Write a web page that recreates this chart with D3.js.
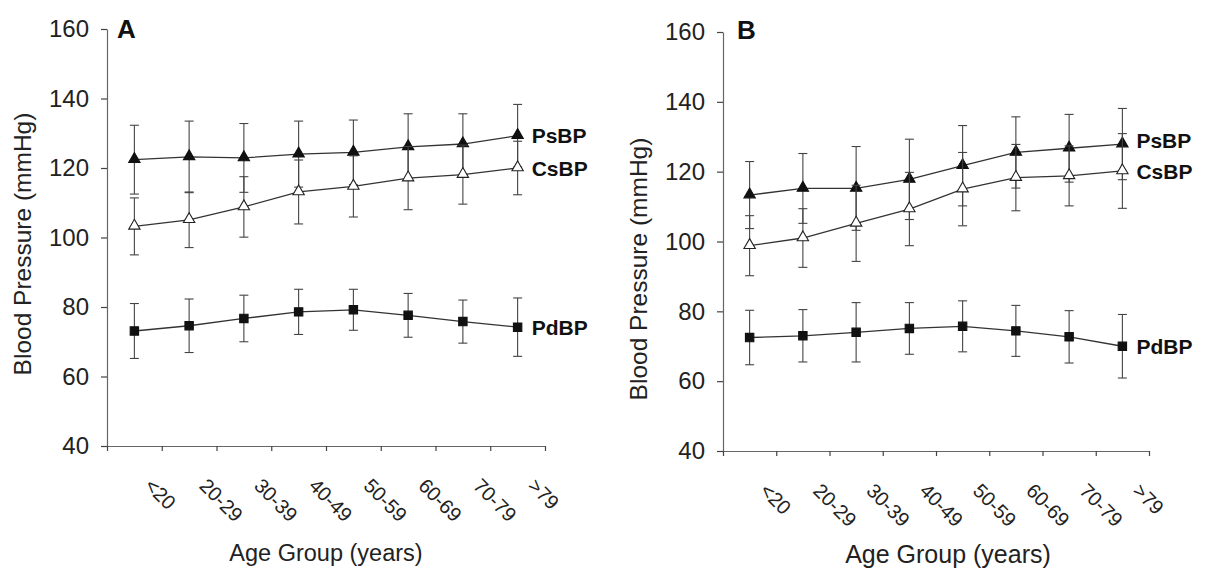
<!DOCTYPE html>
<html>
<head>
<meta charset="utf-8">
<script src="https://cdn.jsdelivr.net/npm/d3@7/dist/d3.min.js"></script>
<style>
  html, body { margin: 0; padding: 0; background: #fff; }
  svg { display: block; font-family: "Liberation Sans", Arial, Helvetica, sans-serif; }
</style>
</head>
<body>
<svg id="chart" width="1209" height="569"></svg>
<script>
// ---- data ----
const ageGroups = ["<20", "20-29", "30-39", "40-49", "50-59", "60-69", "70-79", ">79"];
const yTicks = [40, 60, 80, 100, 120, 140, 160];
const seriesNames = ["PsBP", "CsBP", "PdBP"];
const panelNames = ["A", "B"];
const xTitle = "Age Group (years)";
const yTitle = "Blood Pressure (mmHg)";

// Panel A
const aPsBP   = [122.4, 123.2, 122.9, 124.0, 124.5, 126.1, 126.9, 129.3];
const aPsBPsd = [9.9, 10.3, 9.9, 9.5, 9.3, 9.5, 8.7, 9.0];
const aCsBP   = [103.2, 105.1, 108.8, 113.1, 114.7, 117.1, 118.1, 120.0];
const aCsBPsd = [8.2, 8.0, 8.7, 9.2, 8.8, 9.1, 8.5, 7.7];
const aPdBP   = [73.1, 74.6, 76.7, 78.6, 79.2, 77.6, 75.8, 74.2];
const aPdBPsd = [7.9, 7.7, 6.7, 6.5, 5.9, 6.3, 6.2, 8.4];

// Panel B
const bPsBP   = [113.3, 115.2, 115.2, 117.8, 121.7, 125.5, 126.7, 127.9];
const bPsBPsd = [9.6, 10.0, 12.0, 11.5, 11.5, 10.2, 9.7, 10.2];
const bCsBP   = [98.8, 101.0, 105.2, 109.3, 115.0, 118.3, 118.8, 120.2];
const bCsBPsd = [8.6, 8.4, 10.9, 10.5, 10.5, 9.5, 8.6, 10.7];
const bPdBP   = [72.5, 73.0, 74.0, 75.1, 75.7, 74.4, 72.7, 70.0];
const bPdBPsd = [7.8, 7.5, 8.5, 7.4, 7.3, 7.3, 7.5, 9.1];

// ---- drawing ----
const svg = d3.select("#chart");
const ink = "#222";
const lineInk = "#333";

const panels = [
  { name: panelNames[0], x0: 107, x1: 545, yTop: 29, yBot: 446,
    series: [aPsBP, aCsBP, aPdBP], sds: [aPsBPsd, aCsBPsd, aPdBPsd],
    labelDy: [0, 0, 0], titleX: 117, titleY: 38,
    yTitleX: 31, yTitleY: 244, yTitleSize: 24.5,
    xTitleY: 561, xTitleSize: 23.5, xTitleShift: 0 },
  { name: panelNames[1], x0: 723, x1: 1149, yTop: 32, yBot: 451,
    series: [bPsBP, bCsBP, bPdBP], sds: [bPsBPsd, bCsBPsd, bPdBPsd],
    labelDy: [-4, 0, 0], titleX: 737, titleY: 39,
    yTitleX: 647, yTitleY: 269, yTitleSize: 24.5,
    xTitleY: 563, xTitleSize: 25, xTitleShift: 12 }
];

const markers = [
  { type: d3.symbolTriangle, size: 56, fill: "#111", stroke: "#111" },
  { type: d3.symbolTriangle, size: 56, fill: "#fff", stroke: "#222" },
  { type: d3.symbolSquare,   size: 70, fill: "#111", stroke: "#111" }
];

panels.forEach(p => {
  const g = svg.append("g");
  const y = d3.scaleLinear().domain([40, 160]).range([p.yBot, p.yTop]);
  const x = d3.scaleBand().domain(ageGroups).range([p.x0, p.x1]).padding(0);
  const xb = d3.scaleLinear().domain([0, ageGroups.length]).range([p.x0, p.x1]);
  const cx = d => x(d) + x.bandwidth() / 2;

  // y axis
  const yAxis = g.append("g")
    .attr("transform", `translate(${p.x0},0)`)
    .call(d3.axisLeft(y).tickValues(yTicks).tickSize(6).tickPadding(12).tickSizeOuter(0));
  yAxis.select(".domain").attr("stroke", "#666").attr("stroke-width", 1.2);
  yAxis.selectAll(".tick line").attr("stroke", "#444").attr("stroke-width", 1.2);
  yAxis.selectAll(".tick text").attr("fill", ink).attr("font-size", 24)
    .attr("font-family", "'Liberation Sans', Arial, sans-serif");

  // x axis (ticks at group boundaries)
  const xAxis = g.append("g")
    .attr("transform", `translate(0,${p.yBot})`)
    .call(d3.axisBottom(xb).tickValues(d3.range(ageGroups.length + 1)).tickFormat("").tickSize(5).tickSizeOuter(0));
  xAxis.select(".domain").attr("stroke", "#666").attr("stroke-width", 1.2);
  xAxis.selectAll(".tick line").attr("stroke", "#444").attr("stroke-width", 1.2);

  // rotated category labels
  g.append("g").selectAll("text").data(ageGroups).join("text")
    .attr("transform", d => `translate(${cx(d) + 9},${p.yBot + 41}) rotate(45)`)
    .attr("text-anchor", "start")
    .attr("font-size", 20)
    .attr("fill", ink)
    .text(d => d);

  // axis titles
  g.append("text")
    .attr("x", (p.x0 + p.x1) / 2 + p.xTitleShift).attr("y", p.xTitleY)
    .attr("text-anchor", "middle").attr("font-size", p.xTitleSize).attr("fill", ink)
    .text(xTitle);
  g.append("text")
    .attr("transform", `translate(${p.yTitleX},${p.yTitleY}) rotate(-90)`)
    .attr("text-anchor", "middle").attr("font-size", p.yTitleSize).attr("fill", ink)
    .text(yTitle);

  // panel letter
  g.append("text")
    .attr("x", p.titleX).attr("y", p.titleY)
    .attr("font-size", 26).attr("font-weight", "bold").attr("fill", "#111")
    .text(p.name);

  // series
  const line = d3.line().x((d, i) => cx(ageGroups[i])).y(d => y(d));
  const capW = 4.5;
  p.series.forEach((vals, si) => {
    const sds = p.sds[si];
    const sg = g.append("g");
    // error bars
    const eb = sg.append("g").attr("stroke", "#444").attr("stroke-width", 1.1).attr("fill", "none");
    vals.forEach((v, i) => {
      const xx = cx(ageGroups[i]);
      const hi = y(v + sds[i]), lo = y(v - sds[i]);
      eb.append("line").attr("x1", xx).attr("x2", xx).attr("y1", hi).attr("y2", lo);
      eb.append("line").attr("x1", xx - capW).attr("x2", xx + capW).attr("y1", hi).attr("y2", hi);
      eb.append("line").attr("x1", xx - capW).attr("x2", xx + capW).attr("y1", lo).attr("y2", lo);
    });
    // line
    sg.append("path").datum(vals).attr("d", line)
      .attr("fill", "none").attr("stroke", lineInk).attr("stroke-width", 1.3);
    // markers
    const m = markers[si];
    sg.selectAll("path.mk").data(vals).join("path").attr("class", "mk")
      .attr("transform", (d, i) => `translate(${cx(ageGroups[i])},${y(d) + (m.type === d3.symbolTriangle ? -0.5 : 0)})`)
      .attr("d", d3.symbol().type(m.type).size(m.size))
      .attr("fill", m.fill).attr("stroke", m.stroke).attr("stroke-width", 1.1);
    // series label
    const last = vals.length - 1;
    sg.append("text")
      .attr("x", cx(ageGroups[last]) + 14)
      .attr("y", y(vals[last]) + p.labelDy[si])
      .attr("dy", "0.36em")
      .attr("font-size", 21).attr("font-weight", "bold").attr("fill", "#111")
      .text(seriesNames[si]);
  });
});
</script>
</body>
</html>
